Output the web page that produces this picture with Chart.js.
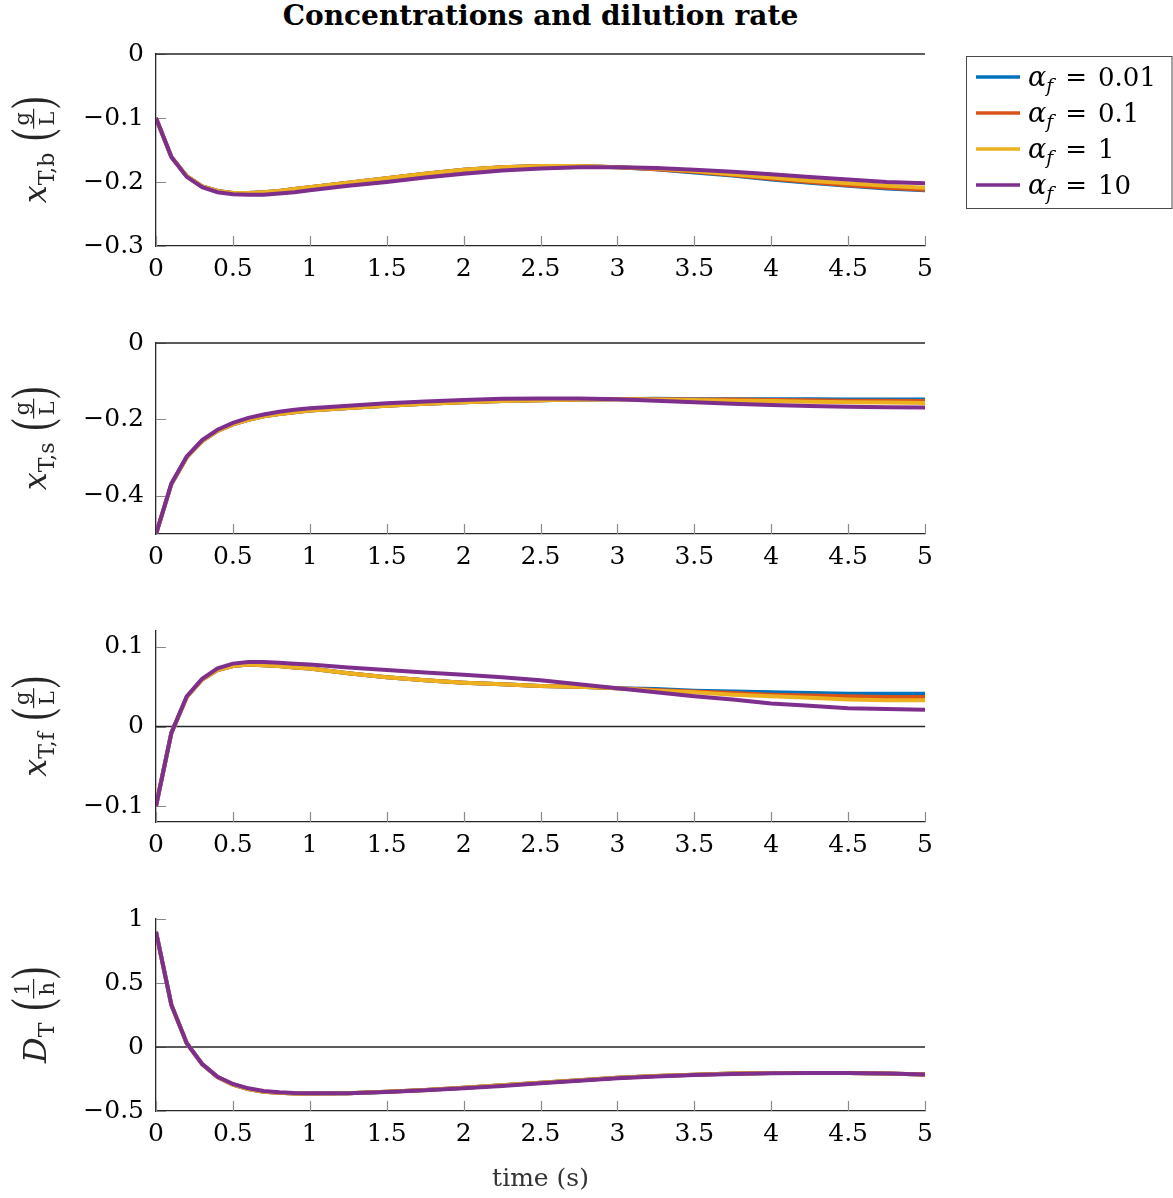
<!DOCTYPE html>
<html>
<head>
<meta charset="utf-8">
<script src="https://cdn.jsdelivr.net/npm/chart.js@4.4.0/dist/chart.umd.min.js"></script>
<style>
  html, body { margin: 0; padding: 0; background: #fff; }
  body { width: 1173px; height: 1198px; position: relative; overflow: hidden; }
  .panel { position: absolute; left: 0; }
  #title { position: absolute; left: 156px; width: 769px; top: -1px; text-align: center;
           font: bold 28px "DejaVu Serif", serif; color: #000; }
</style>
</head>
<body>
<div id="title">Concentrations and dilution rate</div>
<canvas id="p1" class="panel"></canvas>
<canvas id="p2" class="panel"></canvas>
<canvas id="p3" class="panel"></canvas>
<canvas id="p4" class="panel"></canvas>
<script>
// sample times (s)
const time = [0,0.1,0.2,0.3,0.4,0.5,0.6,0.7,0.8,0.9,1,1.25,1.5,1.75,2,2.25,2.5,2.75,3,3.25,3.5,3.75,4,4.25,4.5,4.75,5];

const alphaVals = ['0.01', '0.1', '1', '10'];
const colors = ['#0072BD', '#D95319', '#EDB120', '#7E2F8E'];
const xTicks = [0,0.5,1,1.5,2,2.5,3,3.5,4,4.5,5];

// x_T,b
const xTb_a001 = [-0.100,-0.161,-0.191,-0.207,-0.214,-0.217,-0.217,-0.216,-0.214,-0.211,-0.208,-0.201,-0.194,-0.187,-0.181,-0.177,-0.175,-0.175,-0.177,-0.180,-0.185,-0.190,-0.196,-0.201,-0.206,-0.210,-0.213];
const xTb_a01  = [-0.100,-0.161,-0.191,-0.207,-0.214,-0.217,-0.217,-0.216,-0.214,-0.211,-0.208,-0.201,-0.194,-0.187,-0.181,-0.177,-0.175,-0.175,-0.177,-0.180,-0.184,-0.189,-0.195,-0.200,-0.205,-0.209,-0.212];
const xTb_a1   = [-0.100,-0.161,-0.191,-0.207,-0.214,-0.217,-0.217,-0.216,-0.214,-0.211,-0.208,-0.201,-0.194,-0.187,-0.181,-0.177,-0.175,-0.175,-0.177,-0.179,-0.183,-0.188,-0.193,-0.198,-0.202,-0.206,-0.209];
const xTb_a10  = [-0.100,-0.161,-0.192,-0.208,-0.216,-0.219,-0.220,-0.220,-0.218,-0.216,-0.213,-0.206,-0.200,-0.193,-0.187,-0.182,-0.179,-0.177,-0.177,-0.178,-0.181,-0.184,-0.188,-0.192,-0.196,-0.200,-0.202];
const xTbTicks = [-0.3,-0.2,-0.1,0];

// x_T,s
const xTs_a001 = [-0.500,-0.369,-0.299,-0.257,-0.230,-0.213,-0.201,-0.192,-0.186,-0.181,-0.177,-0.170,-0.164,-0.159,-0.155,-0.152,-0.150,-0.148,-0.147,-0.146,-0.147,-0.147,-0.147,-0.147,-0.148,-0.148,-0.148];
const xTs_a01  = [-0.500,-0.369,-0.299,-0.257,-0.230,-0.213,-0.201,-0.192,-0.186,-0.181,-0.177,-0.170,-0.164,-0.159,-0.155,-0.152,-0.150,-0.148,-0.147,-0.147,-0.148,-0.148,-0.149,-0.150,-0.151,-0.151,-0.152];
const xTs_a1   = [-0.500,-0.369,-0.299,-0.257,-0.230,-0.213,-0.201,-0.192,-0.186,-0.181,-0.177,-0.170,-0.164,-0.159,-0.155,-0.152,-0.150,-0.148,-0.147,-0.148,-0.149,-0.151,-0.152,-0.154,-0.155,-0.156,-0.157];
const xTs_a10  = [-0.500,-0.368,-0.297,-0.254,-0.227,-0.209,-0.196,-0.187,-0.180,-0.175,-0.171,-0.164,-0.158,-0.153,-0.149,-0.146,-0.145,-0.145,-0.147,-0.151,-0.155,-0.159,-0.162,-0.165,-0.167,-0.168,-0.169];
const xTsTicks = [-0.4,-0.2,0];

// x_T,f
const xTf_a001 = [-0.100,-0.008,0.037,0.059,0.071,0.076,0.078,0.077,0.076,0.074,0.073,0.067,0.062,0.058,0.055,0.053,0.051,0.050,0.048,0.047,0.045,0.044,0.043,0.042,0.041,0.041,0.041];
const xTf_a01  = [-0.100,-0.008,0.037,0.059,0.071,0.076,0.078,0.077,0.076,0.074,0.073,0.067,0.062,0.058,0.055,0.053,0.051,0.050,0.048,0.046,0.044,0.042,0.040,0.039,0.038,0.037,0.037];
const xTf_a1   = [-0.100,-0.008,0.037,0.059,0.071,0.076,0.078,0.077,0.076,0.074,0.073,0.067,0.062,0.058,0.055,0.053,0.051,0.050,0.048,0.045,0.043,0.040,0.038,0.036,0.034,0.033,0.033];
const xTf_a10  = [-0.100,-0.008,0.038,0.060,0.073,0.079,0.081,0.081,0.080,0.079,0.078,0.074,0.071,0.068,0.065,0.062,0.058,0.053,0.048,0.043,0.038,0.034,0.029,0.026,0.023,0.022,0.021];
const xTfTicks = [-0.1,0,0.1];

// D_T
const DT_a001 = [0.900,0.328,0.029,-0.134,-0.234,-0.293,-0.328,-0.349,-0.358,-0.363,-0.364,-0.361,-0.350,-0.335,-0.318,-0.299,-0.279,-0.259,-0.241,-0.227,-0.216,-0.208,-0.204,-0.203,-0.204,-0.208,-0.214];
const DT_a01  = [0.900,0.328,0.029,-0.134,-0.234,-0.293,-0.328,-0.349,-0.358,-0.363,-0.364,-0.361,-0.350,-0.335,-0.318,-0.299,-0.279,-0.259,-0.241,-0.227,-0.216,-0.208,-0.204,-0.203,-0.204,-0.208,-0.214];
const DT_a1   = [0.900,0.328,0.029,-0.134,-0.234,-0.293,-0.328,-0.349,-0.358,-0.363,-0.364,-0.361,-0.350,-0.335,-0.318,-0.299,-0.279,-0.259,-0.241,-0.227,-0.216,-0.208,-0.204,-0.203,-0.204,-0.208,-0.214];
const DT_a10  = [0.900,0.328,0.029,-0.133,-0.232,-0.289,-0.323,-0.344,-0.354,-0.360,-0.362,-0.361,-0.351,-0.338,-0.323,-0.304,-0.284,-0.264,-0.245,-0.231,-0.219,-0.211,-0.206,-0.204,-0.204,-0.207,-0.214];
const DTTicks = [-0.5,0,0.5,1];

const FONT = '"DejaVu Serif", serif';
const INK = '#262626';

const panels = [
  { id: 'p1', series: [xTb_a001, xTb_a01, xTb_a1, xTb_a10], min: -0.3, max: 0, ticks: xTbTicks,
    sym: 'x', sub: 'T,b', num: 'g', den: 'L', top: 34, areaH: 192, xH: 48, legend: true },
  { id: 'p2', series: [xTs_a001, xTs_a01, xTs_a1, xTs_a10], min: -0.5, max: 0, ticks: xTsTicks,
    sym: 'x', sub: 'T,s', num: 'g', den: 'L', top: 323, areaH: 191, xH: 48 },
  { id: 'p3', series: [xTf_a001, xTf_a01, xTf_a1, xTf_a10], min: -0.12, max: 0.12, ticks: xTfTicks,
    sym: 'x', sub: 'T,f', num: 'g', den: 'L', top: 611, areaH: 191, xH: 48 },
  { id: 'p4', series: [DT_a001, DT_a01, DT_a1, DT_a10], min: -0.5, max: 1, ticks: DTTicks,
    sym: 'D', sub: 'T', num: '1', den: 'h', top: 899, areaH: 192, xH: 87, xTitle: 'time (s)' }
];

const PAD_TOP = 20, Y_W = 156, PAD_RIGHT = 248;

const fmt = v => String(v).replace('-', '\u2212');

// stretched thin parenthesis
function paren(ctx, ch, x, y) {
  ctx.save();
  ctx.font = '36px "Liberation Serif", serif';
  ctx.translate(x, y);
  ctx.scale(1, 1.5);
  ctx.fillText(ch, 0, 0);
  ctx.restore();
}

// inward tick marks, zero line, y label, legend
const decor = {
  id: 'decor',
  beforeDatasetsDraw(chart, args, opts) {
    const ctx = chart.ctx, a = chart.chartArea;
    const xs = chart.scales.x, ys = chart.scales.y;
    ctx.save();
    ctx.strokeStyle = '#8a8a8a';
    ctx.lineWidth = 1.2;
    ctx.beginPath();
    xs.ticks.forEach(t => {
      const px = Math.round(xs.getPixelForValue(t.value)) + 0.5;
      ctx.moveTo(px, a.bottom); ctx.lineTo(px, a.bottom - 10);
    });
    ys.ticks.forEach(t => {
      const py = Math.round(ys.getPixelForValue(t.value)) + 0.5;
      ctx.moveTo(a.left, py); ctx.lineTo(a.left + 10, py);
    });
    ctx.stroke();
    // zero line
    const z = ys.getPixelForValue(0);
    ctx.strokeStyle = INK;
    ctx.lineWidth = 1.3;
    ctx.beginPath();
    ctx.moveTo(a.left, z); ctx.lineTo(a.right, z);
    ctx.stroke();
    ctx.restore();
  },
  afterDraw(chart, args, opts) {
    const ctx = chart.ctx, a = chart.chartArea;
    // rotated y label
    ctx.save();
    ctx.translate(46, (a.top + a.bottom) / 2);
    ctx.rotate(-Math.PI / 2);
    ctx.fillStyle = INK;
    ctx.textBaseline = 'alphabetic';
    ctx.textAlign = 'left';
    const fSym = 'italic 32px ' + FONT, fSub = '22px ' + FONT, fFrac = '21px ' + FONT;
    ctx.font = fSym; const wSym = ctx.measureText(opts.sym).width;
    ctx.font = fSub; const wSub = ctx.measureText(opts.sub).width;
    ctx.font = '36px "Liberation Serif", serif'; const wPar = ctx.measureText('(').width;
    ctx.font = fFrac;
    const wNum = ctx.measureText(opts.num).width, wDen = ctx.measureText(opts.den).width;
    const wFrac = Math.max(wNum, wDen) + 6;
    const gap = 12;
    const total = wSym + wSub + gap + wPar * 2 + wFrac;
    let x = -total / 2;
    ctx.font = fSym; ctx.fillText(opts.sym, x, 0); x += wSym;
    ctx.font = fSub; ctx.fillText(opts.sub, x, 8); x += wSub + gap;
    paren(ctx, '(', x, 3); x += wPar;
    ctx.font = fFrac;
    ctx.fillText(opts.num, x + (wFrac - wNum) / 2, -17);
    ctx.fillText(opts.den, x + (wFrac - wDen) / 2, 8);
    ctx.fillRect(x, -13, wFrac, 1.2);
    x += wFrac;
    paren(ctx, ')', x, 3);
    ctx.restore();

    if (!opts.legend) return;
    // legend box (canvas coordinates: page y minus canvas top)
    const oy = -opts.top;
    ctx.save();
    ctx.strokeStyle = '#4a4a4a';
    ctx.lineWidth = 1;
    ctx.fillStyle = '#fff';
    ctx.fillRect(966.5, 56.5 + oy, 205.5, 152);
    ctx.strokeRect(966.5, 56.5 + oy, 205.5, 152);
    chart.data.datasets.forEach((ds, i) => {
      const y = 77 + 36 * i + oy;
      ctx.strokeStyle = ds.borderColor;
      ctx.lineWidth = 3.5;
      ctx.beginPath(); ctx.moveTo(976, y); ctx.lineTo(1020, y); ctx.stroke();
      ctx.fillStyle = '#000';
      ctx.textBaseline = 'alphabetic';
      let tx = 1028;
      ctx.font = 'italic 27px ' + FONT; ctx.fillText('\u03b1', tx, y + 9);
      tx += ctx.measureText('\u03b1').width;
      ctx.font = 'italic 19px ' + FONT; ctx.fillText('f', tx, y + 15);
      tx += ctx.measureText('f').width + 12;
      ctx.font = '26px ' + FONT; ctx.fillText('=', tx, y + 9);
      tx += ctx.measureText('=').width + 11;
      ctx.fillText(alphaVals[i], tx, y + 9);
    });
    ctx.restore();
  }
};

panels.forEach(p => {
  const canvas = document.getElementById(p.id);
  const h = PAD_TOP + p.areaH + p.xH;
  canvas.width = 1173; canvas.height = h;
  canvas.style.top = p.top + 'px';

  const datasets = p.series.map((vals, i) => ({
    label: '\u03b1f = ' + alphaVals[i],
    data: time.map((t, k) => ({ x: t, y: vals[k] })),
    borderColor: colors[i],
    backgroundColor: colors[i],
    borderWidth: 4,
    pointRadius: 0,
    tension: 0,
    order: 3 - i
  }));

  new Chart(canvas.getContext('2d'), {
    type: 'line',
    data: { datasets },
    plugins: [decor],
    options: {
      responsive: false,
      animation: false,
      layout: { padding: { top: PAD_TOP, right: PAD_RIGHT, left: 0, bottom: 0 } },
      plugins: {
        legend: { display: false },
        tooltip: { enabled: false },
        decor: { sym: p.sym, sub: p.sub, num: p.num, den: p.den, legend: !!p.legend, top: p.top }
      },
      scales: {
        x: {
          type: 'linear', min: 0, max: 5,
          afterBuildTicks: s => { s.ticks = xTicks.map(v => ({ value: v })); },
          afterFit: s => { s.height = p.xH; s.paddingLeft = 0; s.paddingRight = 0; },
          grid: { display: false, drawTicks: false },
          border: { display: true, color: INK, width: 1.3 },
          ticks: { color: '#000', font: { family: FONT, size: 25 }, padding: 8, maxRotation: 0,
                   callback: v => fmt(v) },
          title: { display: !!p.xTitle, text: p.xTitle || '', color: '#333',
                   font: { family: FONT, size: 25 }, padding: { top: 0, bottom: 4 } }
        },
        y: {
          type: 'linear', min: p.min, max: p.max,
          afterBuildTicks: s => { s.ticks = p.ticks.map(v => ({ value: v })); },
          afterFit: s => { s.width = Y_W; s.paddingTop = 0; s.paddingBottom = 0; },
          grid: { display: false, drawTicks: false },
          border: { display: true, color: INK, width: 1.3 },
          ticks: { color: '#000', font: { family: FONT, size: 25 }, padding: 12,
                   callback: v => fmt(v) }
        }
      }
    }
  });
});
</script>
</body>
</html>
